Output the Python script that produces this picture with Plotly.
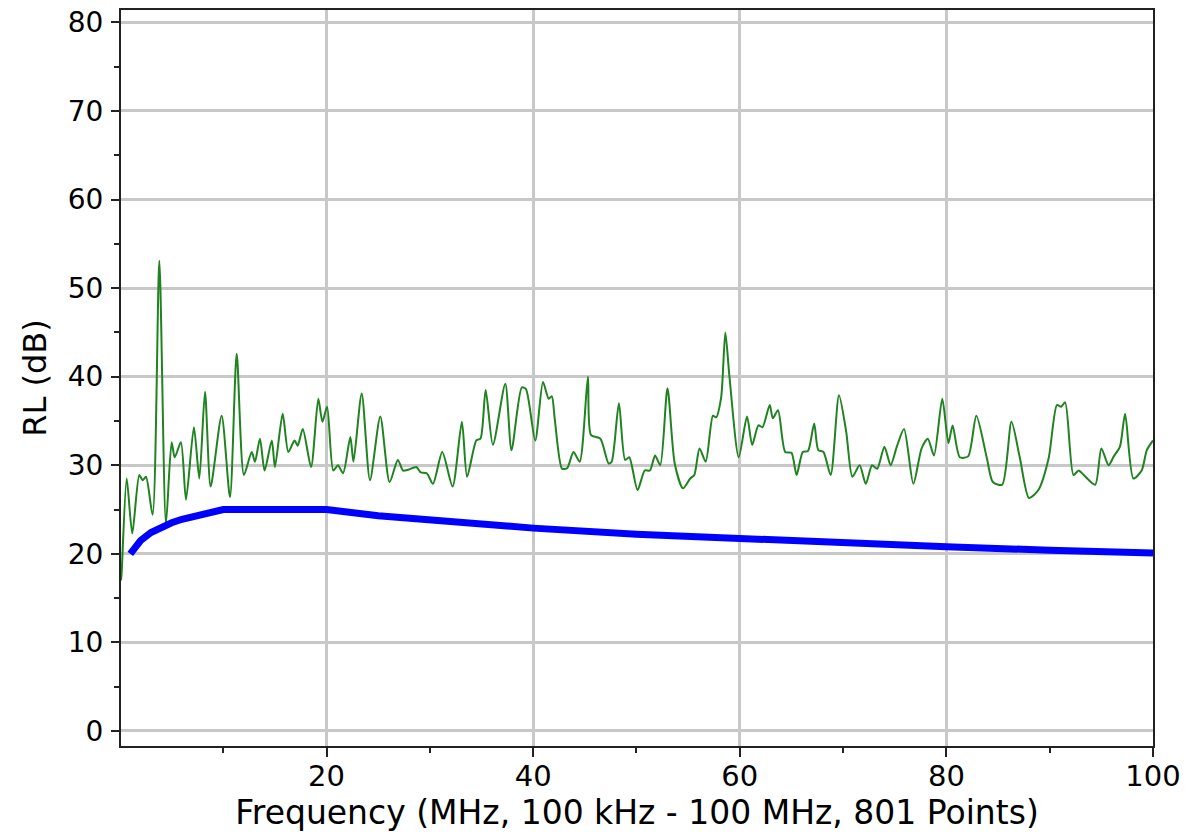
import plotly.graph_objects as go

rl_freq = [0.1, 0.16, 0.65, 1.19, 1.87, 2.19, 2.52, 3.16, 3.81, 4.45, 5.0, 5.3, 5.9, 6.39, 7.16, 7.68,
           8.23, 8.78, 9.84, 10.65, 11.3, 12.0, 12.75, 13.07, 13.55, 14.0, 14.7, 15.0, 15.75, 16.3,
           16.9, 17.2, 17.7, 18.5, 19.2, 19.6, 20.05, 20.65, 21.1, 21.6, 22.3, 22.6, 23.4, 24.2,
           25.2, 26.1, 26.9, 27.4, 27.9, 28.7, 29.1, 29.7, 30.3, 31.2, 32.2, 33.1, 33.6, 34.5,
           34.9, 35.4, 36.1, 37.3, 37.9, 38.9, 39.3, 40.2, 40.95, 41.5, 41.8, 42.1, 42.8, 43.3,
           43.9, 44.5, 45.3, 45.6, 46.5, 47.3, 47.6, 48.3, 48.9, 49.3, 50.1, 50.8, 51.3, 51.8,
           52.3, 53.0, 53.7, 54.5, 55.2, 55.6, 56.1, 56.7, 57.4, 57.7, 58.2, 58.6, 59.0, 59.9,
           60.7, 61.2, 61.8, 62.2, 62.9, 63.2, 63.7, 64.4, 65.0, 65.5, 66.1, 66.6, 67.2, 67.6,
           68.1, 68.8, 69.6, 70.3, 70.9, 71.6, 72.2, 72.8, 73.3, 74.0, 74.6, 75.2, 75.9, 76.8,
           77.6, 78.2, 78.8, 79.6, 80.2, 80.6, 81.3, 82.1, 82.9, 83.9, 84.5, 85.4, 86.3, 87.1,
           88.0, 88.9, 89.9, 90.7, 91.1, 91.5, 92.3, 92.8, 93.3, 94.4, 95.0, 95.7, 96.2, 96.8,
           97.3, 98.1, 98.9, 99.4, 100.0]
rl_value = [17.0, 17.8, 28.5, 22.3, 28.9, 28.3, 28.7, 24.4, 53.1, 23.4, 32.6, 30.9, 32.6, 26.1, 34.3, 28.5,
            38.3, 27.6, 35.6, 26.4, 42.6, 28.9, 31.5, 30.4, 33.0, 29.4, 32.8, 29.8, 35.8, 31.5,
            32.8, 32.2, 34.1, 29.8, 37.5, 34.9, 36.6, 29.4, 30.0, 29.1, 33.2, 30.4, 38.1, 28.3,
            35.5, 28.1, 30.6, 29.4, 29.5, 29.8, 29.2, 29.1, 27.9, 31.5, 27.6, 34.9, 28.7, 32.8,
            33.0, 38.5, 32.3, 39.2, 31.7, 38.8, 38.6, 32.8, 39.4, 37.5, 37.8, 35.1, 29.6, 29.7,
            31.5, 30.4, 40.0, 33.4, 33.0, 30.2, 30.4, 37.0, 30.6, 30.9, 27.2, 29.4, 29.4, 31.1,
            30.0, 38.7, 30.2, 27.4, 28.5, 28.9, 31.9, 30.4, 35.6, 35.4, 37.7, 45.0, 40.0, 30.9,
            35.5, 32.3, 34.5, 34.3, 36.8, 35.3, 36.2, 31.5, 31.4, 28.9, 31.5, 31.6, 34.7, 31.7,
            31.5, 28.9, 37.9, 33.8, 28.7, 30.0, 27.9, 30.0, 29.6, 32.1, 30.0, 32.1, 34.1, 27.9,
            31.9, 33.0, 31.1, 37.5, 32.5, 34.5, 30.9, 31.0, 35.6, 30.9, 28.1, 27.8, 34.9, 30.9,
            26.3, 27.2, 30.8, 36.8, 36.6, 37.1, 28.9, 29.4, 28.9, 27.8, 31.9, 30.0, 31.0, 32.1,
            35.8, 28.5, 29.4, 31.7, 32.8]

# Limit line (blue)
limit_freq = [1, 2, 3, 4, 5, 6, 7, 8, 9, 10, 15, 20, 25, 30, 40, 50, 60, 70, 80, 90, 100]
limit_value = [20.0, 21.5, 22.4, 23.0, 23.5, 23.9, 24.2, 24.5, 24.8, 25.0, 25.0, 25.0,
               24.3, 23.8, 22.9, 22.2, 21.7, 21.2, 20.8, 20.4, 20.1]

x_ticks = [20, 40, 60, 80, 100]
y_ticks = [0, 10, 20, 30, 40, 50, 60, 70, 80]

FONT = "DejaVu Sans"

fig = go.Figure()
fig.add_trace(go.Scatter(x=rl_freq, y=rl_value, mode="lines",
                         line=dict(color="#1f831f", width=2, shape="spline", smoothing=0.7),
                         showlegend=False))
fig.add_trace(go.Scatter(x=limit_freq, y=limit_value, mode="lines",
                         line=dict(color="#0000FF", width=7), showlegend=False))

fig.update_layout(
    width=1201, height=840,
    margin=dict(l=121, r=48, t=10, b=94, autoexpand=False),
    paper_bgcolor="white", plot_bgcolor="white",
    font=dict(family=FONT, color="black"),
    showlegend=False,
)
fig.update_xaxes(
    range=[0.1, 100], tickvals=x_ticks, ticks="outside", ticklen=9, tickwidth=2,
    tickcolor="#222", showline=True, linecolor="#222", linewidth=2, mirror=True,
    showgrid=True, gridcolor="#c8c8c8", gridwidth=3, zeroline=False, automargin=False,
    tickfont=dict(size=29, family=FONT), ticklabelstandoff=-6, ticklabeloverflow="allow",
    minor=dict(ticks="outside", ticklen=5, tickwidth=2, tickcolor="#222", dtick=10, tick0=0, showgrid=False),
    title=dict(text="Frequency (MHz, 100 kHz - 100 MHz, 801 Points)", font=dict(size=33, family=FONT), standoff=6),
)
fig.update_yaxes(
    range=[-1.7, 81.4], tickvals=y_ticks, ticks="outside", ticklen=8, tickwidth=2,
    tickcolor="#222", showline=True, linecolor="#222", linewidth=2, mirror=True,
    showgrid=True, gridcolor="#c8c8c8", gridwidth=3, zeroline=False, automargin=False,
    tickfont=dict(size=28, family=FONT), ticklabelstandoff=2, ticklabeloverflow="allow",
    minor=dict(ticks="outside", ticklen=5, tickwidth=2, tickcolor="#222", dtick=5, tick0=0, showgrid=False),
    title=dict(text="RL (dB)", font=dict(size=32, family=FONT), standoff=12),
)

# remove the default 8px page margin so the figure fills the window exactly
fig.write_html("out.html", config={"displayModeBar": False},
               post_script="document.body.style.margin='0';")
